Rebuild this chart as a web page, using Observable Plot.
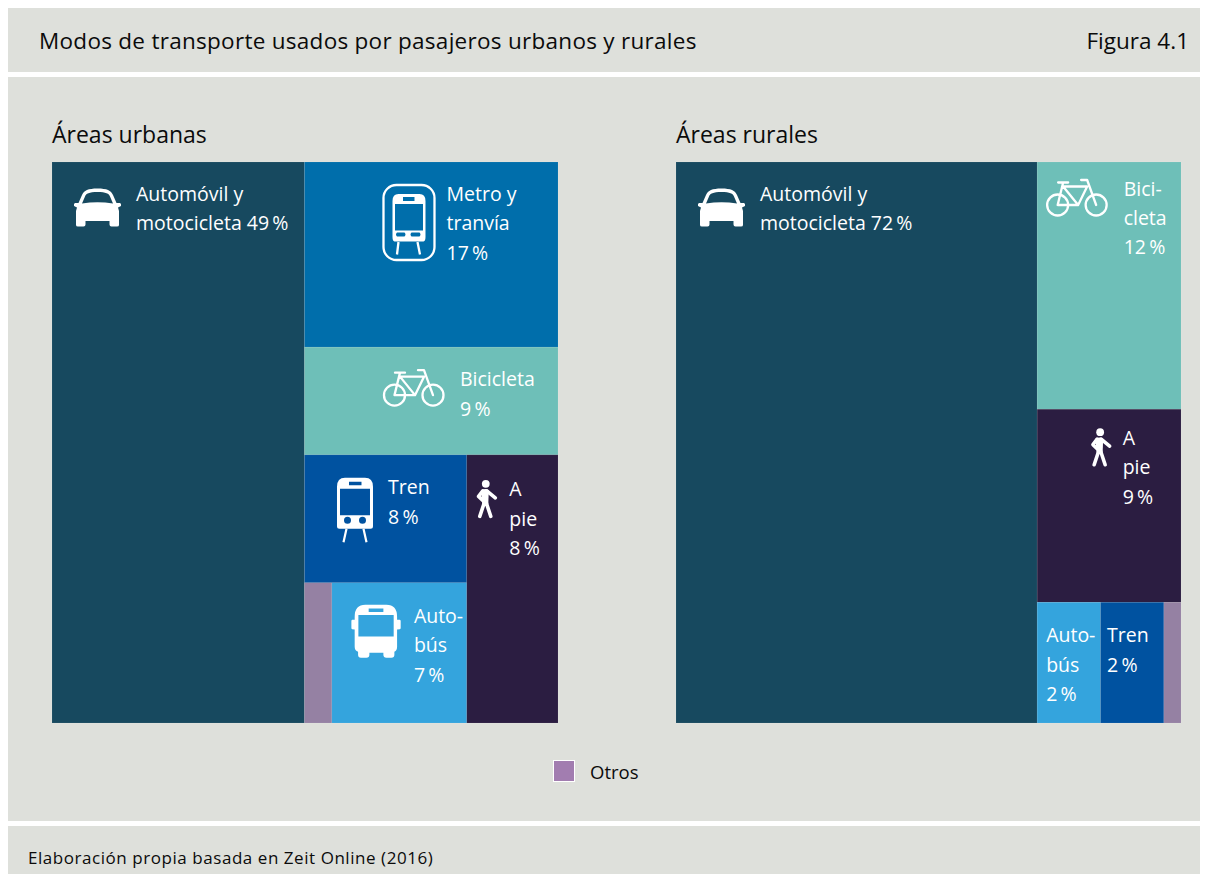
<!DOCTYPE html>
<html lang="es">
<head>
<meta charset="utf-8">
<script src="https://cdn.jsdelivr.net/npm/d3@7"></script>
<script src="https://cdn.jsdelivr.net/npm/@observablehq/plot@0.6"></script>
<style>
  html,body{margin:0;padding:0;background:#fff;width:1214px;height:874px;overflow:hidden}
  body{position:relative;font-family:"Open Sans",sans-serif;color:#0b0b0b}
  .band{position:absolute;left:8px;width:1192px;background:#dee0db}
  .t{position:absolute;white-space:nowrap;line-height:1}
  .chart{position:absolute;top:162px}
  .chart svg{display:block;background:none}
</style>
</head>
<body>
<div class="band" style="top:8px;height:64px"></div>
<div class="band" style="top:77px;height:744px"></div>
<div class="band" style="top:826px;height:48px"></div>
<div class="t" style="left:39px;top:30px;font-size:22.5px;letter-spacing:.28px">Modos de transporte usados por pasajeros urbanos y rurales</div>
<div class="t" style="right:25px;top:30px;font-size:22.5px">Figura 4.1</div>
<div class="t" style="left:52px;top:123px;font-size:23px">Áreas urbanas</div>
<div class="t" style="left:676px;top:123px;font-size:23px">Áreas rurales</div>
<div class="chart" id="urban" style="left:52px"></div>
<div class="chart" id="rural" style="left:676px"></div>
<div style="position:absolute;left:553px;top:760px;width:20px;height:20px;background:#a27db0;border:1px solid #fff"></div>
<div class="t" style="left:590px;top:763px;font-size:18.5px">Otros</div>
<div class="t" style="left:28px;top:849px;font-size:17px;letter-spacing:.55px">Elaboración propia basada en Zeit Online (2016)</div>
<script>
// ---- data ----
const modes = ["Automóvil y motocicleta", "Metro y tranvía", "Bicicleta", "Tren", "A pie", "Autobús", "Otros"];
const modeColors = ["#17495f", "#006eab", "#6ebfb8", "#0052a0", "#2b1d41", "#34a4dd", "#9581a3"];
const urbanShares = [49.8, 16.5, 9.6, 7.3, 8.6, 6.65, 1.35];
const ruralShares = [71.5, 0, 12.55, 2.7, 9.8, 2.7, 0.73];
const urbanLabels = ["Automóvil y\nmotocicleta 49\u2009%", "Metro y\ntranvía\n17\u2009%", "Bicicleta\n9\u2009%", "Tren\n8\u2009%", "A\npie\n8\u2009%", "Auto-\nbús\n7\u2009%", ""];
const ruralLabels = ["Automóvil y\nmotocicleta 72\u2009%", "", "Bici-\ncleta\n12\u2009%", "Tren\n2\u2009%", "A\npie\n9\u2009%", "Auto-\nbús\n2\u2009%", ""];

// ---- how the tiles nest ----
const leaf = i => ({mode: i});
const urbanTree = {dir: "x", children: [leaf(0), {dir: "y", children: [leaf(1), leaf(2),
  {dir: "x", children: [{dir: "y", children: [leaf(3), {dir: "x", children: [leaf(6), leaf(5)]}]}, leaf(4)]}]}]};
const ruralTree = {dir: "x", children: [leaf(0), {dir: "y", children: [leaf(2), leaf(4),
  {dir: "x", children: [leaf(5), leaf(3), leaf(6)]}]}]};

// ---- placement (px from each tile's top-left corner): label x, first baseline; icon x, y ----
const urbanPlace = {0:[83.5,38,22,26,"car"],1:[141.5,38.5,78,22,"metro"],2:[155,38.5,78.5,22,"bike"],3:[83,39,32.5,23,"train"],4:[42,41,10,25,"walker"],5:[81.5,39.5,19.5,22,"bus"]};
const ruralPlace = {0:[83.5,38,22,26,"car"],2:[86,33,9,17,"bike"],4:[85,35,54,19,"walker"],5:[8.5,39.5],3:[6,39.5]};

// ---- icons ----
const W = 'fill="#fff"', S = 'fill="none" stroke="#fff" stroke-width="2.300"';
const icons = {
  car: `<path ${W} fill-rule="evenodd" d="M8 7C10 2.5 14 .5 23.5 .5S37 2.5 39 7L42.5 15H46Q47.5 15.500 47 18L44 19.500 45 23V37Q45 38.500 43 38.500H37.500Q35.500 38.500 35.500 36.500V33H11.500V36.500Q11.500 38.500 9.500 38.500H4Q2 38.500 2 37V23L3 19.500 0 18Q-.5 15.500 1 15H4.500ZM11 8.500 8 15.500Q23.500 13 39 15.500L36 8.500C35 5.500 32 4 23.500 4S12 5.500 11 8.500Z"/>`,
  metro: `<rect ${S} x="1" y="1" width="51" height="75" rx="13"/><path ${W} fill-rule="evenodd" d="M16 10H37Q43 10 43 17V53Q43 57 41 57.500H12Q10 57 10 53V17Q10 10 16 10ZM12.500 20V46.500H40.500V20ZM20.500 13V17H32V13ZM14.500 48.500Q12.500 50.500 14.500 52.500H22Q24 50.500 22 48.500ZM29 48.500Q27 50.500 29 52.500H37Q39 50.500 37 48.500Z"/><path ${S} d="M16 58 14.500 70.500M35 58 37.500 70.500"/>`,
  bike: `<g ${S}><circle cx="11.500" cy="26" r="10.500"/><circle cx="50" cy="26" r="10.500"/><path stroke-linecap="round" stroke-linejoin="round" d="M12 3.500H22M17 3.500 11.500 26H32L41 7.500H17L32 26M35 1H41L50 26"/></g>`,
  train: `<path ${W} fill-rule="evenodd" d="M8 0H28Q36 0 36 9V48.500Q36 51 33.500 51H2.500Q0 51 0 48.500V9Q0 0 8 0ZM3 11V37.500H33V11ZM12 4V7.500H24.500V4ZM10.500 39A3.500 3.500 0 1 0 10.500 46 3.500 3.500 0 1 0 10.500 39ZM25.500 39A3.500 3.500 0 1 0 25.500 46 3.500 3.500 0 1 0 25.500 39Z"/><path fill="none" stroke="#fff" stroke-width="2.200" d="M9.500 51 6.500 64.500M26.500 51 29.500 64.500"/>`,
  walker: `<circle ${W} cx="9" cy="4" r="3.900"/><path ${W} d="M4.500 10.500Q9 8 12 10.500L11.500 24.500H5.500L5 20Z"/><g fill="none" stroke="#fff" stroke-width="3.600" stroke-linecap="round" stroke-linejoin="round"><path d="M10 11 18.500 18M6 11 1.800 16.500 6 20.500M7.500 23 3 36.500M9.500 23 14 36.500"/></g>`,
  bus: `<path ${W} fill-rule="evenodd" d="M14 0H35Q45.700 0 45.700 12V42Q45.700 46 43 47V50Q43 53 40 53H35Q32 53 32 50V48H18V50Q18 53 15 53H9.500Q6.700 53 6.700 50V47Q3.300 46 3.300 42V12Q3.300 0 14 0ZM7 10.300V31.700H42.300V10.300ZM17.300 3.700V7.300H32V3.700ZM0 16Q0 14.700 3.300 14.700V24.700Q0 24.700 0 23.500ZM49.300 16Q49.300 14.700 45.700 14.700V24.700Q49.300 24.700 49.300 23.500Z"/>`
};

// ---- one treemap drawn with Plot ----
function layout(tree, shares) {
  const root = d3.hierarchy(tree).sum(d => d.children ? 0 : shares[d.mode]);
  d3.treemap()
    .size([100, 100])
    .tile((node, x0, y0, x1, y1) => (node.data.dir === "x" ? d3.treemapDice : d3.treemapSlice)(node, x0, y0, x1, y1))(root);
  return root.leaves();
}

function treemap(selector, tree, shares, labels, place, width) {
  const tiles = layout(tree, shares);
  const fs = 19.5, lh = 29.5 / fs, top = 0.71 * 29.5;
  const marks = [
    Plot.rect(tiles, {x1: "x0", x2: "x1", y1: "y0", y2: "y1", fill: d => modes[d.data.mode], stroke: "#fff", strokeOpacity: 0.12, strokeWidth: 0.6})
  ];
  for (const t of tiles) {
    const p = place[t.data.mode];
    if (!p) continue;
    marks.push(Plot.text([t], {
      x: "x0", y: "y0", text: () => labels[t.data.mode], dx: p[0], dy: p[1] - top,
      textAnchor: "start", lineAnchor: "top", lineHeight: lh, fontSize: fs, fill: "#fff", fontFamily: "'Open Sans', sans-serif"
    }));
    if (p[4]) marks.push((index, scales) => {
      const g = document.createElementNS("http://www.w3.org/2000/svg", "g");
      g.setAttribute("transform", `translate(${scales.x(t.x0) + p[2]},${scales.y(t.y0) + p[3]})`);
      g.innerHTML = icons[p[4]];
      return g;
    });
  }
  const chart = Plot.plot({
    width, height: 561, margin: 0,
    x: {domain: [0, 100], axis: null},
    y: {domain: [0, 100], reverse: true, axis: null},
    color: {domain: modes, range: modeColors},
    style: {background: "none", overflow: "visible"},
    marks
  });
  document.querySelector(selector).append(chart);
}

treemap("#urban", urbanTree, urbanShares, urbanLabels, urbanPlace, 506);
treemap("#rural", ruralTree, ruralShares, ruralLabels, ruralPlace, 505);
</script>
</body>
</html>
